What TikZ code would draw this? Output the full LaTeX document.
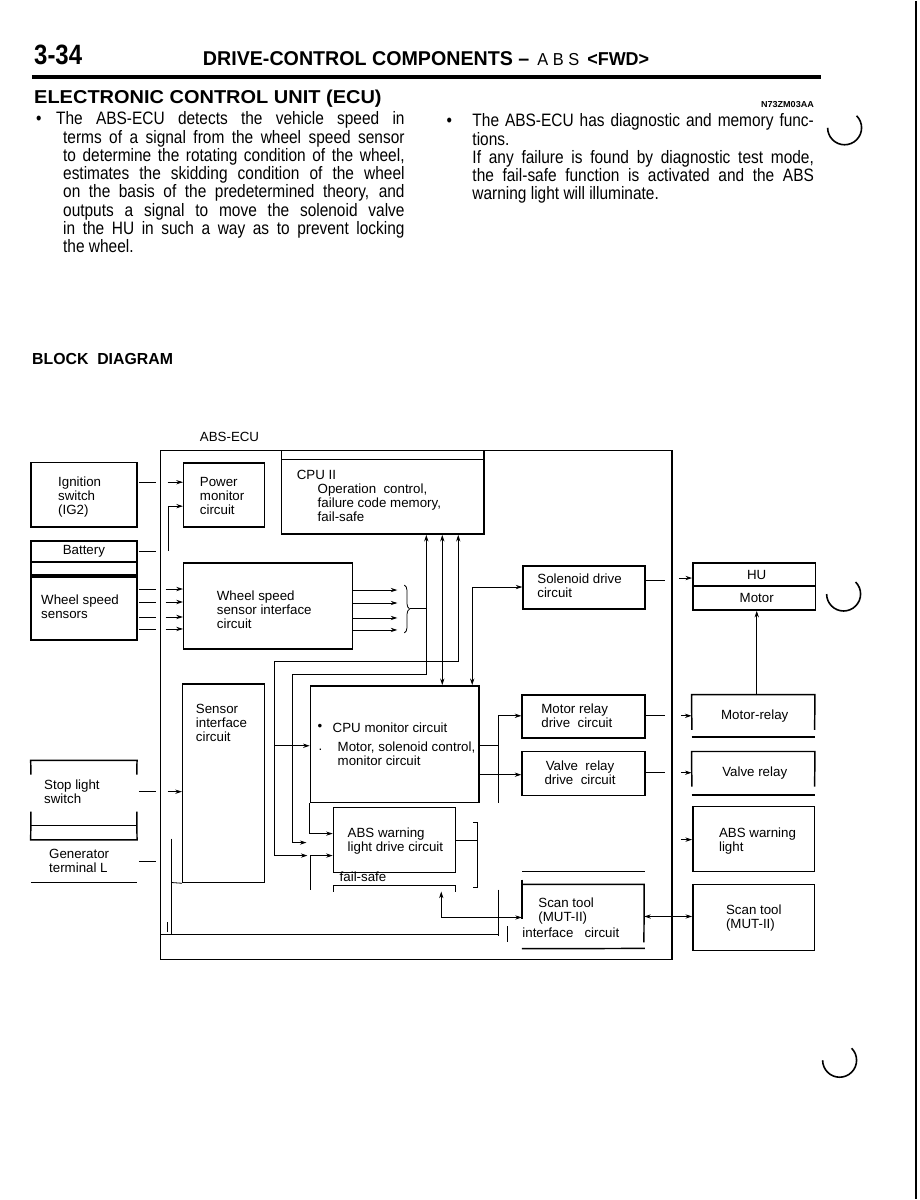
\documentclass[tikz,border=0pt]{standalone}
\usepackage{fontspec}
\setmainfont{Liberation Sans}
\newfontfamily\condfont[FakeStretch=0.86]{Liberation Sans}
\usetikzlibrary{arrows.meta,fit,positioning,decorations.pathreplacing}
\newlength{\px}
\setlength{\px}{0.75pt}
\tikzset{
  box/.style={draw, line width=1.1pt, inner sep=0pt},
  openbox/.style={inner sep=0pt},
  frame/.style={line width=1.1pt},
  lbl/.style={font=\fontsize{10}{10.5}\selectfont, align=left, inner sep=0pt, anchor=west},
  body/.style={font=\condfont\fontsize{13.5}{14}\selectfont, inner sep=0pt, anchor=base west},
  wire/.style={line width=0.6pt},
  arr/.style={wire, -{Stealth[length=5pt,width=3.2pt]}},
  darr/.style={wire, {Stealth[length=5pt,width=3.2pt]}-{Stealth[length=5pt,width=3.2pt]}},
}
\begin{document}
\begin{tikzpicture}[x=0.75pt, y=-0.75pt]
\fill[white] (0,0) rectangle (921,1200);
% page edge and punch holes
\draw[line width=1.5pt] (918,0) -- (918,1200);
\foreach \cx/\cy in {846/127, 845/594, 841/1061}
  \draw[line width=1.2pt] (\cx,\cy) ++(-45:17) arc[start angle=-45, end angle=180, radius=17];

% page header
\node[body, font=\fontsize{21}{21}\selectfont\bfseries] (pnum) at (34,64) {\resizebox{48\px}{\height}{3-34}};
\node[body, font=\fontsize{15}{15}\selectfont\bfseries] (ttl) at (203,65) {\resizebox{327\px}{\height}{DRIVE-CONTROL COMPONENTS –}};
\node[body, font=\fontsize{13}{14}\selectfont] (ttlabs) at (538,65) {\resizebox{42\px}{\height}{A B S}};
\node[body, font=\fontsize{14}{14}\selectfont\bfseries] (ttlfwd) at (588,65) {\resizebox{62\px}{\height}{<FWD>}};
\draw[line width=3pt] (32,76) -- (822,76);

% section text
\node[body, font=\fontsize{14}{14}\selectfont\bfseries] (sec) at (34,103) {\resizebox{348\px}{\height}{ELECTRONIC CONTROL UNIT (ECU)}};
\node[body, font=\fontsize{6.5}{7}\selectfont\bfseries] (code) at (762,107) {\resizebox{53\px}{\height}{N73ZM03AA}};

\node[body] (lb) at (36,124) {\textbullet};
\node[body] (l0) at (56,124) {\makebox[349\px][s]{The ABS-ECU detects the vehicle speed in}};
\foreach \t [count=\i] in {{terms of a signal from the wheel speed sensor},
    {to determine the rotating condition of the wheel,},
    {estimates the skidding condition of the wheel},
    {on the basis of the predetermined theory, and},
    {outputs a signal to move the solenoid valve},
    {in the HU in such a way as to prevent locking}}
  \node[body] (l\i) at (63,{124+18.3*\i}) {\makebox[342\px][s]{\t}};
\node[body] (l7) at (63,{124+18.3*7}) {the wheel.};

\node[body] (rb) at (447,126) {\textbullet};
\node[body] (r0) at (473,126) {\makebox[342\px][s]{The ABS-ECU has diagnostic and memory func-}};
\node[body] (r1) at (473,144.3) {tions.};
\node[body] (r2) at (473,162.6) {\makebox[342\px][s]{If any failure is found by diagnostic test mode,}};
\node[body] (r3) at (473,180.9) {\makebox[342\px][s]{the fail-safe function is activated and the ABS}};
\node[body] (r4) at (473,199.2) {warning light will illuminate.};

\node[body, font=\fontsize{12}{14}\selectfont\bfseries] (bd) at (32,364) {\resizebox{141\px}{\height}{BLOCK\ \ DIAGRAM}};
\node[body, font=\fontsize{10}{12}\selectfont] (ecut) at (200,441) {ABS-ECU};

% ECU frame and blocks
\node[box, fit={(161,450) (673,960)}] (ecu) {};
\draw[frame] (161,935) -- (500,935);
\node[box, fit={(282,450) (485,534)}] (cpu) {};
\draw[frame] (282,459) -- (485,459);
\node[box, fit={(31,462) (137,527)}] (ign) {};
\node[box, fit={(31,541) (137,575)}] (bat) {};
\draw[frame] (31,562) -- (137,562);
\node[box, fit={(31,577) (137,640)}] (wss) {};
\node[box, fit={(184,463) (265,527)}] (pmc) {};
\node[box, fit={(184,563) (353,649)}] (wsi) {};
\node[box, fit={(183,684) (265,883)}] (sic) {};
\node[box, fit={(311,686) (480,803)}] (cmc) {};
\node[box, fit={(334,808) (456,873)}] (awd) {};
\node[box, fit={(524,566) (646,609)}] (sdc) {};
\node[box, fit={(694,563) (817,610)}] (hu) {};
\draw[frame] (694,586) -- (817,586);
\node[box, fit={(523,695) (646,738)}] (mrd) {};
\node[box, fit={(523,752) (646,796)}] (vrd) {};
\node[box, fit={(694,807) (816,872)}] (awl) {};
\node[box, fit={(694,885) (816,951)}] (sct) {};
\node[openbox, fit={(693,695) (816,737)}] (mrl) {};
\draw[frame] (693,730) -- (mrl.north west) -- (mrl.north east) -- (816,730);
\draw[frame] (mrl.south west) -- (mrl.south east);
\node[openbox, fit={(693,752) (816,795)}] (vrl) {};
\draw[frame] (693,787) -- (vrl.north west) -- (vrl.north east) -- (816,787);
\draw[frame] (vrl.south west) -- (vrl.south east);
\node[openbox, fit={(523,885) (645,949)}] (sti) {};
\draw[frame] (523,872) -- (646,872);
\draw[frame] (523,880) -- (523,920);
\draw[frame] (sti.north west) -- (sti.north east) -- (645,943);
\draw[frame] (sti.south west) -- (646,949);
\node[openbox, fit={(31,761) (137,840)}] (stop) {};
\draw[frame] (31,775) -- (stop.north west) -- (stop.north east) -- (137,775);
\draw[frame] (31,812) -- (stop.south west) -- (stop.south east) -- (137,812);
\draw[frame] (31,826) -- (137,826);
\draw[frame] (31,883) -- (137,883);

% block texts
\node[lbl] (tign) at (58,497) {Ignition\\switch\\(IG2)};
\node[lbl, anchor=center] (tbat) at (84,551) {Battery};
\node[lbl] (twss) at (41,607) {Wheel speed\\sensors};
\node[lbl] (tpmc) at (200,496) {Power\\monitor\\circuit};
\node[lbl] (twsi) at (217,610) {Wheel speed\\sensor interface\\circuit};
\node[lbl] (tcpu) at (297,475) {CPU II};
\node[lbl] (tcpu2) at (318,503) {Operation\ \ control,\\failure code memory,\\fail-safe};
\node[lbl] (tsdc) at (538,586) {Solenoid drive\\circuit};
\node[lbl, anchor=center] (thu) at (758,575) {HU};
\node[lbl, anchor=center] (tmot) at (758,598) {Motor};
\node[lbl] (tsic) at (196,723) {Sensor\\interface\\circuit};
\node[lbl] (tcb1) at (318,728) {\textbullet};
\node[lbl] (tcmc) at (333,728) {CPU monitor circuit};
\node[lbl] (tcb2) at (319,750) {.};
\node[lbl] (tcmc2) at (338,754) {Motor, solenoid control,\\monitor circuit};
\node[lbl] (tmrd) at (542,716) {Motor relay\\drive\ \ circuit};
\node[lbl, anchor=center] (tmrl) at (756,716) {Motor-relay};
\node[lbl, anchor=center, align=center] (tvrd) at (581,773) {Valve\ \ relay\\drive\ \ circuit};
\node[lbl, anchor=center] (tvrl) at (756,773) {Valve relay};
\node[lbl] (tawl) at (720,841) {ABS warning\\light};
\node[lbl] (tstop) at (44,792) {Stop light\\switch};
\node[lbl] (tgen) at (49,861) {Generator\\terminal\ L};
\node[lbl] (tawd) at (348,841) {ABS warning\\light drive circuit};
\node[lbl] (tfs) at (340,877) {fail-safe};
\node[lbl] (tsti) at (539,912) {Scan tool\\(MUT-II)};
\node[lbl] (tsti2) at (523,933) {interface\ \ \ circuit};
\node[lbl] (tsct) at (727,919) {Scan tool\\(MUT-II)};

% inputs
\draw[wire] (139,482) -- (156,482);
\draw[arr] (168,482) -- (pmc.west |- 0,482);
\draw[wire] (139,551) -- (156,551);
\draw[arr] (169,551) -- (169,506) -- (pmc.west |- 0,506);
\foreach \y in {589,602,617,629} {
  \draw[wire] (139,\y) -- (156,\y);
  \draw[arr] (166,\y) -- (wsi.west |- 0,\y);
}
\draw[wire] (139,792) -- (156,792);
\draw[arr] (168,792) -- (sic.west |- 0,792);
\draw[wire] (139,862) -- (156,862);
\draw[wire] (172,839) -- (172,935);
\draw[wire] (172,883) -- (sic.south west);
\draw[wire] (168,923) -- (168,933);

% wheel speed signals to CPU
\foreach \y in {590,603,618,630}
  \draw[arr] (wsi.east |- 0,\y) -- (398,\y);
\draw[wire, decorate, decoration={brace, amplitude=4pt}] (405,585) -- (405,633);
\draw[wire] (411,608) -- (427,608);
\draw[darr] (cpu.south -| 427,0) -- (427,675) -- (293,675) -- (293,843) -- (307,843);
\draw[darr] (cpu.south -| 443,0) -- (cmc.north -| 443,0);
\draw[darr] (cpu.south -| 459,0) -- (459,661) -- (275,661) -- (275,856) -- (308,856);
\draw[arr] (275,746) -- (cmc.west |- 0,746);

% solenoid and HU
\draw[darr] (cmc.north -| 473,0) -- (473,587) -- (sdc.west |- 0,587);
\draw[wire] (sdc.east |- 0,580) -- (666,580);
\draw[arr] (680,578) -- (hu.west |- 0,578);
\draw[arr] (mrl.north -| 758,0) -- (hu.south -| 758,0);

% relays
\draw[wire] (cmc.east |- 0,746) -- (499,746);
\draw[wire] (499,716) -- (499,803);
\draw[arr] (499,716) -- (mrd.west |- 0,716);
\draw[arr] (cmc.east |- 0,775) -- (vrd.west |- 0,775);
\draw[wire] (mrd.east |- 0,716) -- (666,716);
\draw[arr] (682,716) -- (mrl.west |- 0,716);
\draw[wire] (vrd.east |- 0,773) -- (666,773);
\draw[arr] (682,773) -- (vrl.west |- 0,773);
\draw[arr] (682,840) -- (awl.west |- 0,840);

% warning light drive
\draw[arr] (cmc.south west) -- (cmc.south west |- 0,834) -- (awd.west |- 0,834);
\draw[arr] (311,890) -- (311,856) -- (awd.west |- 0,856);
\draw[wire] (awd.east |- 0,841) -- (478,841);
\draw[wire] (474,823) -- (478,823) -- (478,888) -- (474,888);
\draw[wire] (334,892) -- (334,886) -- (456,886) -- (456,892);

% scan tool
\draw[darr] (442,892) -- (442,918) -- (sti.west |- 0,918);
\draw[darr] (sti.east |- 0,917) -- (sct.west |- 0,917);
\draw[wire] (499,890) -- (499,937);
\draw[wire] (508,927) -- (508,943);
\end{tikzpicture}
\end{document}
